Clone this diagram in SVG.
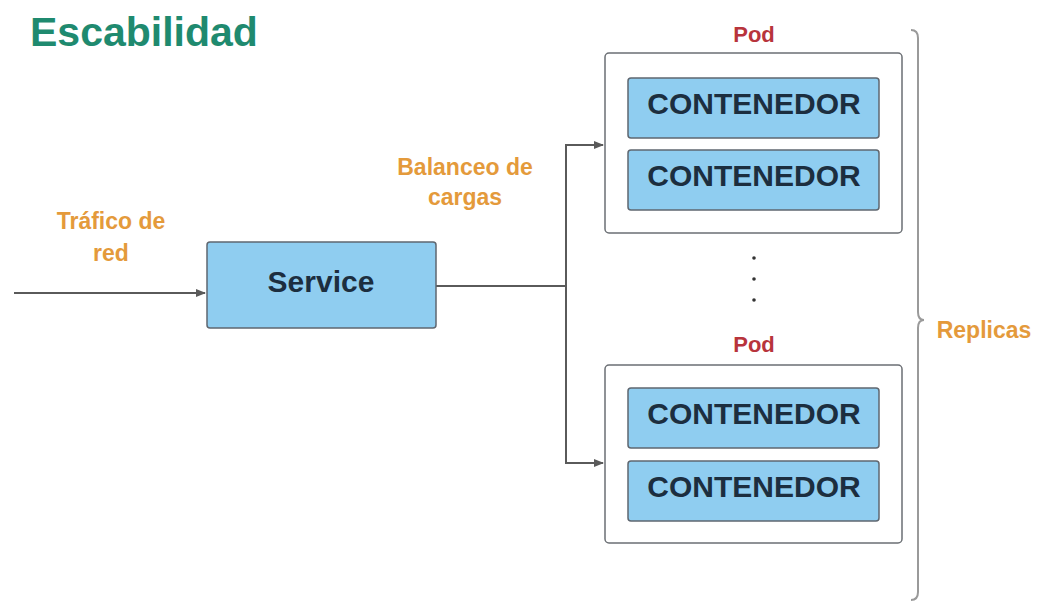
<svg xmlns="http://www.w3.org/2000/svg" width="1042" height="603" viewBox="0 0 1042 603">
  <style>
    text { font-family: "Liberation Sans", Arial, sans-serif; font-weight: bold; text-anchor: middle; }
    .title { fill: #1f8a6f; font-size: 41px; text-anchor: start; }
    .note { fill: #e49a3b; font-size: 23px; }
    .podlabel { fill: #b8343c; font-size: 22px; }
    .box { fill: #8fcdf0; stroke: #5f6770; stroke-width: 1.5; }
    .pod { fill: #ffffff; stroke: #6b6f74; stroke-width: 1.5; }
    .label { fill: #1c2e3f; font-size: 30px; }
    .wire { fill: none; stroke: #5a5a5a; stroke-width: 2; }
    .brace { fill: none; stroke: #9a9a9a; stroke-width: 2; }
    .dot { fill: #333333; }
  </style>
  <defs>
    <marker id="arrow" markerWidth="10" markerHeight="8" refX="9" refY="4" orient="auto" markerUnits="userSpaceOnUse">
      <path d="M0,0 L10,4 L0,8 Z" fill="#5a5a5a"/>
    </marker>
  </defs>

  <rect width="1042" height="603" fill="#ffffff"/>

  <text class="title" x="30" y="46">Escabilidad</text>

  <!-- connectors -->
  <g id="connectors">
    <line class="wire" x1="14" y1="293" x2="205" y2="293" marker-end="url(#arrow)"/>
    <path class="wire" d="M436,286 H566"/>
    <path class="wire" d="M566,286 V145 H603" marker-end="url(#arrow)"/>
    <path class="wire" d="M566,286 V463 H603" marker-end="url(#arrow)"/>
  </g>

  <g id="traffic-label">
    <text class="note" x="111" y="229">Tráfico de</text>
    <text class="note" x="111" y="261">red</text>
  </g>

  <g id="balance-label">
    <text class="note" x="465" y="175">Balanceo de</text>
    <text class="note" x="465" y="205">cargas</text>
  </g>

  <g id="service">
    <rect class="box" x="207" y="242" width="229" height="86" rx="3"/>
    <text class="label" x="321" y="292">Service</text>
  </g>

  <g id="pod-1">
    <text class="podlabel" x="754" y="42">Pod</text>
    <rect class="pod" x="605" y="53" width="297" height="180" rx="4"/>
    <rect class="box" x="628" y="78" width="251" height="60" rx="3"/>
    <text class="label" x="754" y="114">CONTENEDOR</text>
    <rect class="box" x="628" y="150" width="251" height="60" rx="3"/>
    <text class="label" x="754" y="186">CONTENEDOR</text>
  </g>

  <g id="ellipsis">
    <circle class="dot" cx="754" cy="258" r="1.8"/>
    <circle class="dot" cx="754" cy="279" r="1.8"/>
    <circle class="dot" cx="754" cy="300" r="1.8"/>
  </g>

  <g id="pod-2">
    <text class="podlabel" x="754" y="352">Pod</text>
    <rect class="pod" x="605" y="365" width="297" height="178" rx="4"/>
    <rect class="box" x="628" y="388" width="251" height="60" rx="3"/>
    <text class="label" x="754" y="424">CONTENEDOR</text>
    <rect class="box" x="628" y="461" width="251" height="60" rx="3"/>
    <text class="label" x="754" y="497">CONTENEDOR</text>
  </g>

  <g id="replicas">
    <path class="brace" d="M911,30 Q918,30 918,38 V312 Q918,320 924,320 Q918,320 918,328 V592 Q918,600 911,600"/>
    <text class="note" x="984" y="338">Replicas</text>
  </g>
</svg>
